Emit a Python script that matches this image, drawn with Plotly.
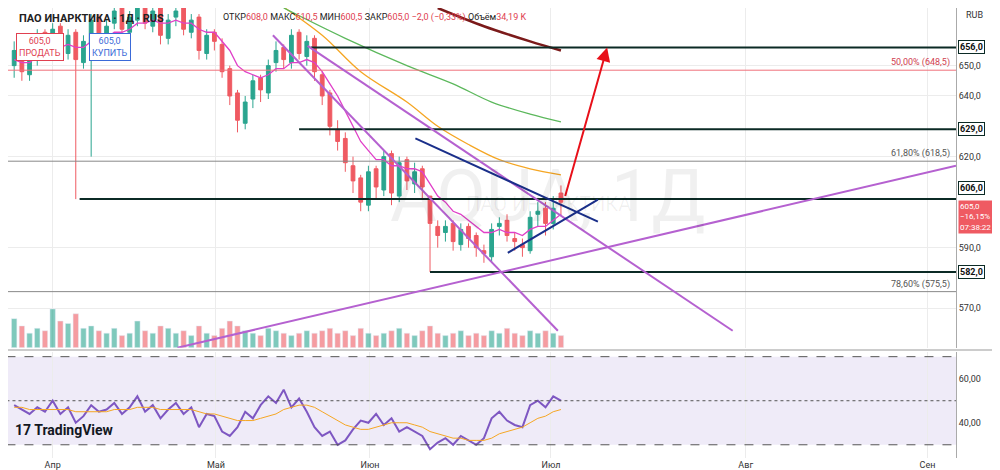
import plotly.graph_objects as go

# bar index: 0 = 1 April; visible bars from -5 to 66
BAR_IDX = list(range(-5, 67))
OPEN = [650,656,647,653,661,655,663,654,661,651,657,666,659,664,669,661,665,671,663,669,
        659,666,669,661,666,654,661,657,649,641,631,639,646,641,651,656,651,661,653,659,
        647,641,629,626,617,613,604,616,609,621,607,619,611,616,607,597,595,598,591,597,
        594,589,587,597,599,593,591,589,601,603,598,608]
HIGH = [658,657,654,662,662,664,664,662,662,660,667,667,665,670,670,668,673,672,669,670,
        667,670,670,667,667,662,662,659,650,642,640,647,647,652,658,657,662,662,660,660,
        648,642,632,628,620,614,617,617,622,622,620,620,618,617,607,599,599,599,598,598,
        595,591,598,600,601,595,593,602,605,605,607,610.5]
LOW = [646,645,645,650,654,653,653,652,606,649,620,657,657,662,660,659,663,662,661,657,
       657,663,660,659,652,652,655,646,637,628,629,636,638,639,648,649,649,652,650,645,
       637,627,622,615,608,602,602,606,607,604,605,609,608,606,582,590,592,589,589,590,
       587,585,585,594,592,589,587,588,597,594,596,600.5]
CLOSE = [655,648,652,660,656,662,655,660,652,658,665,660,663,668,662,666,670,664,668,660,
         665,668,662,665,655,660,658,648,640,632,638,645,642,650,655,652,660,654,658,648,
         640,630,625,618,612,605,615,610,620,608,618,612,615,610,598,594,597,592,596,593,
         590,588,596,598,594,592,590,600,602,598,603,605]
VOLUME = [60,45,30,40,35,80,55,50,70,40,45,35,30,40,25,30,55,35,30,45,
          40,30,35,25,45,30,25,40,55,45,35,30,25,40,35,30,25,30,35,30,
          35,40,30,35,25,40,30,25,30,35,40,30,25,35,45,30,25,30,35,25,
          30,25,35,30,40,30,25,35,30,35,30,25]
EMA_FAST = [652,651,651,653,654,656,656,657,656,656,658,658,659,661,661,662,664,664,665,664,
            664,665,664,664,662,661,661,658,655,650,648,647,646,647,649,649,651,651,652,651,
            648,644,640,635,630,625,622,619,619,617,617,616,616,615,611,607,605,602,601,599,
            597,595,595,596,595,595,594,596,597,597,599,601]
ORANGE_X = [29, 35, 40, 46, 50, 54, 58, 62, 66]
ORANGE_Y = [671, 660, 648, 638, 630, 624, 619, 616, 614]
GREEN_X = [30, 38, 46, 52, 57, 62, 66]
GREEN_Y = [669, 659, 650, 644, 638, 634, 631.5]
DARK_X = [50, 56, 62, 66]
DARK_Y = [669, 663, 658, 655]
RSI = [48,46,44,47,45,50,44,47,40,43,48,45,46,49,44,47,52,45,48,42,
       46,49,44,47,38,44,43,36,34,38,45,42,48,52,49,55,47,51,45,38,
       34,36,30,32,37,41,40,44,39,42,36,38,36,34,28,31,33,30,34,32,
       30,33,42,45,41,39,38,48,50,47,52,50]
RSI_MA = [47,47,46,46,46,46,46,46,45,45,45,45,45,46,46,46,47,47,47,46,
          46,46,46,46,45,44,44,43,42,41,41,41,42,43,44,46,47,48,48,47,
          45,43,41,39,38,37,37,38,39,40,40,40,39,38,36,35,34,33,33,32,
          32,32,33,35,36,37,38,40,42,43,45,46]
MONTH_POS = [0, 21.2, 41.2, 64.7, 90, 113.6]
MONTH_LABELS = ["Апр", "Май", "Июн", "Июл", "Авг", "Сен"]
LEVELS = [656, 629, 606, 582]
LEVEL_START = [33.5, 32, 3.5, 49]
LEVEL_SHIFT = [0, 0, 11, 0]
FIB = [648.5, 618.5, 575.5]
FIB_TEXT = ["50,00% (648,5)", "61,80% (618,5)", "78,60% (575,5)"]
PRICE_TICKS = [570, 590, 620, 640, 650]
X_MAX = 117.3
UP, DOWN = "#2aa58f", "#ef5a62"

fig = go.Figure()

vol_col = ["rgba(42,165,143,0.6)" if c >= o else "rgba(239,90,98,0.6)" for o, c in zip(OPEN, CLOSE)]
fig.add_bar(x=BAR_IDX, y=VOLUME, marker_color=vol_col, width=0.7, yaxis="y3", showlegend=False)

fig.add_candlestick(x=BAR_IDX, open=OPEN, high=HIGH, low=LOW, close=CLOSE,
                    increasing=dict(line=dict(color=UP, width=1), fillcolor=UP),
                    decreasing=dict(line=dict(color=DOWN, width=1), fillcolor=DOWN),
                    whiskerwidth=0, showlegend=False)

fig.add_scatter(x=BAR_IDX, y=EMA_FAST, mode="lines", line=dict(color="#e040c8", width=1.3), showlegend=False)
fig.add_scatter(x=ORANGE_X, y=ORANGE_Y, mode="lines", line=dict(color="#f5a623", width=1.3, shape="spline"), showlegend=False)
fig.add_scatter(x=GREEN_X, y=GREEN_Y, mode="lines", line=dict(color="#5cb85c", width=1.3, shape="spline"), showlegend=False)
fig.add_scatter(x=DARK_X, y=DARK_Y, mode="lines", line=dict(color="#7b1a1a", width=2.5, shape="spline"), showlegend=False)

# drawn levels
for lv, x0, ys in zip(LEVELS, LEVEL_START, LEVEL_SHIFT):
    fig.add_shape(type="line", x0=x0, x1=X_MAX, y0=lv, y1=lv, line=dict(color="#0b2a25", width=2), layer="above")
    fig.add_annotation(x=1, xref="paper", y=lv, yref="y", text=f"<b>{lv},0</b>",
                       showarrow=False, xanchor="left", xshift=2, yshift=ys, bgcolor="white",
                       bordercolor="#0b2a25", borderwidth=1, font=dict(size=9, color="#111"), borderpad=1)
for lv, txt in zip(FIB, FIB_TEXT):
    col = "#f0707a" if lv == 648.5 else "#888"
    fig.add_shape(type="line", x0=-6, x1=X_MAX, y0=lv, y1=lv, line=dict(color=col, width=1))
    fig.add_annotation(x=X_MAX - 0.5, y=lv, text=txt, showarrow=False, xanchor="right", yanchor="bottom",
                       font=dict(size=9, color="#d04050" if lv == 648.5 else "#555"))

# trend lines
purple = dict(color="#b561d0", width=2)
fig.add_shape(type="line", x0=28.6, y0=660, x1=65.6, y1=562.6, line=purple)
fig.add_shape(type="line", x0=33.1, y0=656.5, x1=88.3, y1=562.6, line=purple)
fig.add_shape(type="line", x0=16.2, y0=557, x1=X_MAX, y1=617, line=purple)
navy = dict(color="#1a2f8a", width=2)
fig.add_shape(type="line", x0=47.1, y0=626, x1=70.8, y1=598.6, line=navy)
fig.add_shape(type="line", x0=59.1, y0=588.3, x1=70.8, y1=605.8, line=navy)
fig.add_annotation(x=72, y=656, ax=66.5, ay=606.5, axref="x", ayref="y", showarrow=True,
                   arrowhead=2, arrowsize=1.4, arrowwidth=2, arrowcolor="#e8101a", text="")

# current price label
fig.add_annotation(x=1, xref="paper", y=600, yref="y", text="605,0<br>−16,15%<br>07:38:22",
                   showarrow=False, xanchor="left", xshift=2, bgcolor="#ef5a62",
                   font=dict(size=8, color="white"), align="left", borderpad=1)

# RSI pane
fig.add_shape(type="rect", x0=-6, x1=X_MAX, y0=30, y1=70, xref="x2", yref="y2",
              fillcolor="rgba(126,87,194,0.12)", line_width=0, layer="below")
for lv in [70, 50, 30]:
    fig.add_shape(type="line", x0=-6, x1=X_MAX, y0=lv, y1=lv, xref="x2", yref="y2",
                  line=dict(color="#555", width=1, dash="dash" if lv != 50 else "dot"))
fig.add_scatter(x=BAR_IDX, y=RSI, xaxis="x2", yaxis="y2", mode="lines",
                line=dict(color="#7e57c2", width=2), showlegend=False)
fig.add_scatter(x=BAR_IDX, y=RSI_MA, xaxis="x2", yaxis="y2", mode="lines",
                line=dict(color="#f5a623", width=1), showlegend=False)

# header texts
fig.add_annotation(x=0.01, xref="paper", y=0.995, yref="paper", xanchor="left", yanchor="top",
                   text="<b>ПАО ИНАРКТИКА · 1Д · RUS</b>", showarrow=False, font=dict(size=11, color="#222"))
fig.add_annotation(x=0.225, xref="paper", y=0.995, yref="paper", xanchor="left", yanchor="top",
                   text="ОТКР<span style='color:#e04050'>608,0</span> МАКС<span style='color:#e04050'>610,5</span> "
                        "МИН<span style='color:#e04050'>600,5</span> ЗАКР<span style='color:#e04050'>605,0 −2,0 (−0,33%)</span> "
                        "Объём<span style='color:#e04050'>34,19 K</span>",
                   showarrow=False, font=dict(size=9, color="#222"))
fig.add_annotation(x=0.008, xref="paper", y=0.945, yref="paper", xanchor="left", yanchor="top",
                   text="605,0<br>ПРОДАТЬ", showarrow=False, bgcolor="white", bordercolor="#e04050",
                   font=dict(size=9, color="#e04050"), borderpad=2)
fig.add_annotation(x=0.085, xref="paper", y=0.945, yref="paper", xanchor="left", yanchor="top",
                   text="605,0<br>КУПИТЬ", showarrow=False, bgcolor="white", bordercolor="#3a6ad8",
                   font=dict(size=9, color="#3a6ad8"), borderpad=2)
fig.add_annotation(x=0.57, xref="paper", y=0.68, yref="paper", text="AQUA, 1Д", showarrow=False,
                   font=dict(size=72, color="rgba(0,0,0,0.06)"))
fig.add_annotation(x=0.57, xref="paper", y=0.565, yref="paper", text="ПАО ИНАРКТИКА", showarrow=False,
                   font=dict(size=20, color="rgba(0,0,0,0.06)"))
fig.add_annotation(x=0.005, xref="paper", y=0.04, yref="paper", xanchor="left", text="<b>17 TradingView</b>",
                   showarrow=False, font=dict(size=14, color="#131722"))
fig.add_annotation(x=1, xref="paper", y=1, yref="paper", xanchor="left", yanchor="top", xshift=8,
                   text="RUB", showarrow=False, font=dict(size=9, color="#333"))

fig.update_layout(
    width=1000, height=470, margin=dict(l=0, r=52, t=0, b=20),
    plot_bgcolor="white", paper_bgcolor="white", bargap=0.3,
    font=dict(family="Roboto, sans-serif", size=9, color="#333"),
    xaxis=dict(range=[-5.8, X_MAX], rangeslider_visible=False, showticklabels=False,
               tickvals=MONTH_POS, showgrid=True, gridcolor="#ececec", zeroline=False, anchor="y"),
    xaxis2=dict(range=[-5.8, X_MAX], matches="x", tickvals=MONTH_POS, ticktext=MONTH_LABELS,
                showgrid=True, gridcolor="#ececec", anchor="y2", ticks="", zeroline=False),
    yaxis=dict(domain=[0.245, 1], range=[557, 669], side="right", tickvals=PRICE_TICKS,
               ticktext=[f"{v},0" for v in PRICE_TICKS], showgrid=True, gridcolor="#ececec",
               zeroline=False, showline=True, linecolor="#aaa"),
    yaxis2=dict(domain=[0, 0.235], range=[24, 72], side="right", tickvals=[40, 60],
                ticktext=["40,00", "60,00"], showgrid=False, zeroline=False, showline=True, linecolor="#aaa"),
    yaxis3=dict(overlaying="y", range=[0, 700], visible=False),
)
fig.add_shape(type="line", xref="paper", yref="paper", x0=0, x1=1.05, y0=0.24, y1=0.24,
              line=dict(color="#999", width=1))

fig.write_html("out.html")
